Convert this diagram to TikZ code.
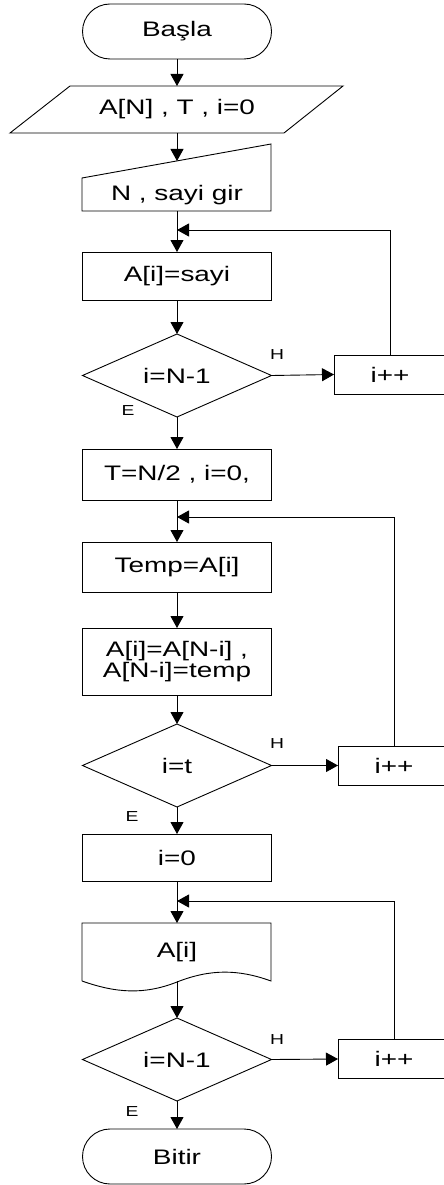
\documentclass[tikz,border=0pt]{standalone}
\usepackage{fontspec}
\setmainfont{Liberation Sans}
\usetikzlibrary{shapes.geometric,arrows.meta}
\newcommand{\sx}[1]{\scalebox{1.33}[1]{#1}}
\tikzset{
  base/.style={draw=black, line width=0.9pt, inner sep=0pt, outer sep=0pt, minimum width=189pt,
    font=\fontsize{21}{21}\selectfont, align=center},
  term/.style={base, rectangle, rounded corners=27.5pt},
  proc/.style={base, rectangle},
  decision/.style={base, diamond, minimum height=83pt},
  ghost/.style={base, draw=none},
  incbox/.style={base, rectangle, minimum width=112pt, minimum height=39pt},
  lbl/.style={font=\fontsize{14.5}{14.5}\selectfont, inner sep=0pt},
  arr/.style={line width=0.9pt, -{Triangle[length=12pt,width=13pt]}},
  shp/.style={draw=black, line width=0.9pt, line join=miter}
}
\begin{document}
\begin{tikzpicture}[x=1pt,y=-1pt]
\useasboundingbox (0,0) rectangle (444,1185);
\fill[white] (0,0) rectangle (444,1185);
\clip (0,0) rectangle (444,1185);

% nodes
\node[term, minimum height=55pt] (start) at (177,31.5) {\sx{Başla}};
\node[ghost, minimum height=47pt] (par) at (177,109.5) {\sx{A[N] , T , i=0}};
\draw[shp] (70,86) -- (343,86) -- (284,133) -- (10,133) -- cycle;
\node[ghost, minimum height=32pt] (inp) at (177,195) {\sx{N , sayi gir}};
\draw[shp] (82,178) -- (271,144) -- (271,211) -- (82,211) -- cycle;
\coordinate (inptop) at (177,161);
\node[proc, minimum height=48pt] (sayi) at (177,276) {\sx{A[i]=sayi}};
\node[decision] (d1) at (177,375.5) {\sx{i=N-1}};
\node[incbox] (inc1) at (390,374.5) {\sx{i++}};
\node[proc, minimum height=51pt] (tbox) at (177,474.5) {\sx{T=N/2 , i=0,}};
\node[proc, minimum height=50pt] (temp) at (177,567) {\sx{Temp=A[i]}};
\node[proc, minimum height=67pt] (swap) at (177,661.5) {\sx{A[i]=A[N-i] ,}\\\sx{A[N-i]=temp}};
\node[decision] (d2) at (177,765.5) {\sx{i=t}};
\node[incbox] (inc2) at (394,765.5) {\sx{i++}};
\node[proc, minimum height=47pt] (izero) at (177,857.5) {\sx{i=0}};
\node[ghost, minimum height=58pt] (doc) at (177,952) {\sx{A[i]}};
\draw[shp] (82,981) -- (82,923) -- (271,923) -- (271,981)
  .. controls (238,969) and (210,969) .. (177,982)
  .. controls (144,995) and (116,993) .. (82,981);
\node[decision] (d3) at (177,1059.5) {\sx{i=N-1}};
\node[incbox] (inc3) at (394,1059) {\sx{i++}};
\node[term, minimum height=55pt] (stop) at (177,1156.5) {\sx{Bitir}};

% labels
\node[lbl] (h1) at (277,355) {\sx{H}};
\node[lbl] (e1) at (128,411) {\sx{E}};
\node[lbl] (h2) at (277,744) {\sx{H}};
\node[lbl] (e2) at (132,817) {\sx{E}};
\node[lbl] (h3) at (277,1039) {\sx{H}};
\node[lbl] (e3) at (132,1111) {\sx{E}};

% join coordinates
\coordinate (j1) at (177,230);
\coordinate (j2) at (177,517);
\coordinate (j3) at (177,901);

% main flow
\draw[arr] (start.south) -- (par.north);
\draw[arr] (par.south) -- (inptop);
\draw[arr] (inp.south) -- (sayi.north);
\draw[arr] (sayi.south) -- (d1.north);
\draw[arr] (d1.south) -- (tbox.north);
\draw[arr] (tbox.south) -- (temp.north);
\draw[arr] (temp.south) -- (swap.north);
\draw[arr] (swap.south) -- (d2.north);
\draw[arr] (d2.south) -- (izero.north);
\draw[arr] (izero.south) -- (doc.north);
\draw[arr] (doc.south) -- (d3.north);
\draw[arr] (d3.south) -- (stop.north);

% loops
\draw[arr] (d1.east) -- (inc1.west);
\draw[arr] (inc1.north) |- (j1);
\draw[arr] (d2.east) -- (inc2.west);
\draw[arr] (inc2.north) |- (j2);
\draw[arr] (d3.east) -- (inc3.west);
\draw[arr] (inc3.north) |- (j3);
\end{tikzpicture}
\end{document}
